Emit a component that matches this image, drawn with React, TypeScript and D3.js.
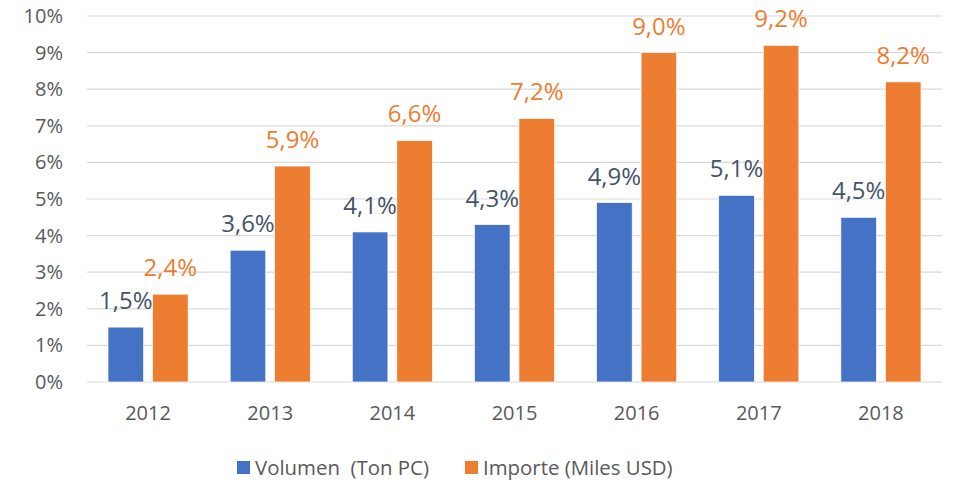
import React from "react";
import * as d3 from "d3";

const categories = ["2012", "2013", "2014", "2015", "2016", "2017", "2018"];
const volumen = [1.5, 3.6, 4.1, 4.3, 4.9, 5.1, 4.5];
const importe = [2.4, 5.9, 6.6, 7.2, 9.0, 9.2, 8.2];
const yTicks = [0, 1, 2, 3, 4, 5, 6, 7, 8, 9, 10];
const seriesNames = ["Volumen  (Ton PC)", "Importe (Miles USD)"];

const W = 956, H = 482;
const left = 87, right = 942, top = 16, bottom = 382;
const FONT = "'Open Sans', 'Noto Sans', sans-serif";
const BLUE = "#4472C4", ORANGE = "#ED7D31";

const fmt = (v: number) => v.toFixed(1).replace(".", ",") + "%";

export default function App() {
  const x = d3.scaleBand<string>().domain(categories).range([left, right]).paddingInner(0.344).paddingOuter(0.172);
  const y = d3.scaleLinear().domain([0, 10]).range([bottom, top]);
  const inner = d3.scaleBand<string>().domain(["v", "i"]).range([0, x.bandwidth()]).paddingInner(0.2);
  const series = [
    { key: "v", values: volumen, color: BLUE, label: "#44546A" },
    { key: "i", values: importe, color: ORANGE, label: ORANGE },
  ];
  return (
    <svg width={W} height={H} style={{ position: "absolute", left: 0, top: 0, background: "#fff" }}>
      {yTicks.map((t) => (
        <g key={t}>
          <line x1={left} x2={right} y1={y(t)} y2={y(t)} stroke="#D9D9D9" strokeWidth={1.2} />
          <text x={63} y={y(t)} dy="0.35em" textAnchor="end" fontFamily={FONT} fontSize={20} fill="#595959">{t}%</text>
        </g>
      ))}
      {categories.map((c) => (
        <text key={c} x={x(c)! + x.bandwidth() / 2} y={420} textAnchor="middle" fontFamily={FONT} fontSize={20} fill="#595959">{c}</text>
      ))}
      {series.map((s) =>
        s.values.map((v, i) => {
          const bx = x(categories[i])! + inner(s.key)!;
          return (
            <g key={s.key + i}>
              <rect x={bx} y={y(v)} width={inner.bandwidth()} height={bottom - y(v)} fill={s.color} stroke="#fff" strokeWidth={0.7} />
              <text x={bx + inner.bandwidth() / 2} y={y(v) - 18} textAnchor="middle" fontFamily={FONT} fontSize={24} fill={s.label}>{fmt(v)}</text>
            </g>
          );
        })
      )}
      <g>
        <rect x={237} y={461} width={13} height={13} fill={BLUE} />
        <text x={255} y={468} dy="0.35em" fontFamily={FONT} fontSize={20.4} fill="#595959" style={{ whiteSpace: "pre" }}>{seriesNames[0]}</text>
        <rect x={465} y={461} width={13} height={13} fill={ORANGE} />
        <text x={483} y={468} dy="0.35em" fontFamily={FONT} fontSize={20.4} fill="#595959">{seriesNames[1]}</text>
      </g>
    </svg>
  );
}
